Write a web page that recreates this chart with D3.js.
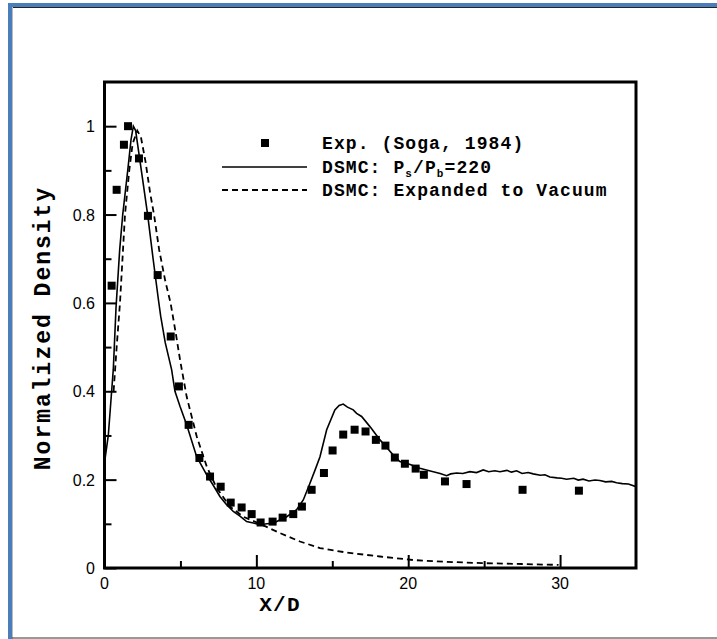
<!DOCTYPE html>
<html>
<head>
<meta charset="utf-8">
<script src="https://cdn.jsdelivr.net/npm/d3@7"></script>
<style>
  html, body { margin: 0; padding: 0; background: #fff; }
  svg { display: block; }
</style>
</head>
<body>
<script>
// Experimental points (Soga, 1984)
const expX = [0.47, 0.80, 1.28, 1.55, 2.27, 2.86, 3.50, 4.36, 4.90, 5.54, 6.25, 6.95, 7.65, 8.31, 9.03, 9.69, 10.28, 11.07, 11.73, 12.43, 13.00, 13.64, 14.45, 15.02, 15.72, 16.47, 17.19, 17.87, 18.50, 19.12, 19.78, 20.49, 21.03, 22.42, 23.84, 27.53, 31.24];
const expY = [0.639, 0.856, 0.958, 1.000, 0.927, 0.797, 0.663, 0.524, 0.411, 0.324, 0.249, 0.207, 0.184, 0.148, 0.137, 0.122, 0.103, 0.105, 0.114, 0.122, 0.139, 0.177, 0.215, 0.266, 0.302, 0.313, 0.309, 0.290, 0.277, 0.250, 0.236, 0.225, 0.211, 0.196, 0.190, 0.177, 0.175];

// DSMC, back pressure ratio Ps/Pb = 220
const dsmcX = [0, 0.25, 0.47, 0.58, 0.76, 1.0, 1.2, 1.53, 1.75, 1.9, 2.05, 2.3, 2.55, 2.84, 3.2, 3.54, 3.7, 4.0, 4.42, 4.64, 4.97, 5.41, 6.07, 6.73, 7.2, 7.6, 8.0, 8.48, 8.9, 9.36, 9.8, 10.24, 10.7, 11.1, 11.5, 12.0, 12.65, 13.09, 13.53, 13.9, 14.19, 14.63, 15.17, 15.45, 15.72, 16.0, 16.38, 16.6, 16.93, 17.48, 18.14, 18.6, 19.0, 19.45, 19.9, 20.3, 20.77, 21.2, 21.65, 22.1, 22.53, 22.8, 23.19, 23.6, 24.06, 24.5, 24.94, 25.3, 25.7, 26.04, 26.5, 26.8, 27.14, 27.5, 27.9, 28.23, 28.7, 29.0, 29.33, 29.8, 30.1, 30.43, 30.9, 31.2, 31.52, 31.9, 32.3, 32.62, 33.0, 33.4, 33.72, 34.1, 34.5, 35.0];
const dsmcY = [0.238, 0.300, 0.400, 0.450, 0.590, 0.720, 0.800, 0.900, 0.970, 1.000, 0.990, 0.930, 0.870, 0.800, 0.700, 0.610, 0.570, 0.510, 0.449, 0.400, 0.366, 0.324, 0.252, 0.211, 0.185, 0.162, 0.145, 0.128, 0.118, 0.105, 0.102, 0.098, 0.100, 0.101, 0.108, 0.116, 0.132, 0.154, 0.192, 0.225, 0.252, 0.313, 0.358, 0.368, 0.371, 0.364, 0.358, 0.350, 0.343, 0.320, 0.290, 0.272, 0.256, 0.241, 0.237, 0.232, 0.226, 0.222, 0.218, 0.214, 0.209, 0.213, 0.215, 0.214, 0.218, 0.216, 0.222, 0.218, 0.220, 0.218, 0.221, 0.217, 0.220, 0.214, 0.216, 0.213, 0.210, 0.211, 0.206, 0.204, 0.203, 0.201, 0.203, 0.199, 0.201, 0.197, 0.199, 0.198, 0.195, 0.196, 0.193, 0.191, 0.190, 0.184];

// DSMC, expansion into vacuum
const vacX = [0.6, 0.8, 1.02, 1.35, 1.63, 1.85, 2.16, 2.4, 2.7, 3.0, 3.26, 3.6, 4.0, 4.35, 4.7, 4.97, 5.41, 6.07, 6.73, 7.39, 8.26, 9.14, 10.24, 11.56, 12.87, 14.19, 15.94, 18.14, 20.33, 22.5, 24.9, 27.5, 29.9];
const vacY = [0.40, 0.50, 0.60, 0.80, 0.90, 0.96, 0.99, 0.975, 0.92, 0.85, 0.80, 0.72, 0.65, 0.60, 0.53, 0.472, 0.388, 0.298, 0.230, 0.181, 0.139, 0.116, 0.100, 0.079, 0.060, 0.045, 0.035, 0.026, 0.018, 0.014, 0.011, 0.009, 0.007];

const xMajor = [0, 10, 20, 30];
const xMinor = [5, 15, 25];
const yMajor = [0, 0.2, 0.4, 0.6, 0.8, 1];
const yMinor = [0.1, 0.3, 0.5, 0.7, 0.9];
const yLabels = ["0", "0.2", "0.4", "0.6", "0.8", "1"];

const W = 717, H = 639;
const box = { left: 104.5, right: 636, top: 82, bottom: 568 };

const svg = d3.select("body").append("svg").attr("width", W).attr("height", H);

// page frame
svg.append("rect").attr("x", 0).attr("y", 0).attr("width", W).attr("height", H).attr("fill", "#fff");
svg.append("rect").attr("x", 8).attr("y", 3).attr("width", W - 8).attr("height", 4).attr("fill", "#4a7ebb");
svg.append("rect").attr("x", 8).attr("y", 3).attr("width", 4).attr("height", H - 3).attr("fill", "#4a7ebb");
svg.append("line").attr("x1", 12).attr("x2", W).attr("y1", 7.5).attr("y2", 7.5).attr("stroke", "#222").attr("stroke-width", 1);
svg.append("line").attr("x1", 12.5).attr("x2", 12.5).attr("y1", 7).attr("y2", H).attr("stroke", "#bbb").attr("stroke-width", 1);
svg.append("line").attr("x1", 12).attr("x2", W).attr("y1", 638).attr("y2", 638).attr("stroke", "#333").attr("stroke-width", 1);

const x = d3.scaleLinear().domain([0, 35]).range([box.left, box.right]);
const y = d3.scaleLinear().domain([0, 1.1]).range([box.bottom, box.top]);

const g = svg.append("g");

// clip for curves
svg.append("clipPath").attr("id", "plotclip").append("rect")
  .attr("x", box.left).attr("y", box.top).attr("width", box.right - box.left).attr("height", box.bottom - box.top);

// axes with inward ticks
const xAxisMajor = d3.axisTop(x).tickValues(xMajor).tickSize(13).tickFormat("");
const xAxisMinor = d3.axisTop(x).tickValues(xMinor).tickSize(7).tickFormat("");
const yAxisMajor = d3.axisRight(y).tickValues(yMajor).tickSize(12).tickFormat("");
const yAxisMinor = d3.axisRight(y).tickValues(yMinor).tickSize(7).tickFormat("");

[xAxisMajor, xAxisMinor].forEach(a => {
  const ax = g.append("g").attr("transform", `translate(0,${box.bottom})`).call(a);
  ax.select(".domain").remove();
  ax.selectAll(".tick line").attr("stroke", "#000").attr("stroke-width", 2);
});
[yAxisMajor, yAxisMinor].forEach(a => {
  const ax = g.append("g").attr("transform", `translate(${box.left},0)`).call(a);
  ax.select(".domain").remove();
  ax.selectAll(".tick line").attr("stroke", "#000").attr("stroke-width", 2);
});

// tick labels
g.selectAll(".xlab").data(xMajor).enter().append("text")
  .attr("x", d => x(d)).attr("y", 589)
  .attr("text-anchor", "middle")
  .attr("font-family", "'Liberation Sans', Arial, sans-serif").attr("font-size", 16)
  .text(d => d);
g.selectAll(".ylab").data(yMajor).enter().append("text")
  .attr("x", 95).attr("y", d => y(d) + 6)
  .attr("text-anchor", "end")
  .attr("font-family", "'Liberation Sans', Arial, sans-serif").attr("font-size", 16)
  .text((d, i) => yLabels[i]);

// curves
const line = d3.line().x(d => x(d[0])).y(d => y(d[1]));
const plot = g.append("g").attr("clip-path", "url(#plotclip)");
plot.append("path").datum(dsmcX.map((v, i) => [v, dsmcY[i]]))
  .attr("d", line).attr("fill", "none").attr("stroke", "#000").attr("stroke-width", 1.6);
plot.append("path").datum(vacX.map((v, i) => [v, vacY[i]]))
  .attr("d", line).attr("fill", "none").attr("stroke", "#000").attr("stroke-width", 1.8)
  .attr("stroke-dasharray", "6,4");

// experimental markers
const ms = 8;
plot.selectAll(".exp").data(expX.map((v, i) => [v, expY[i]])).enter().append("rect")
  .attr("x", d => x(d[0]) - ms / 2).attr("y", d => y(d[1]) - ms / 2)
  .attr("width", ms).attr("height", ms).attr("fill", "#000");

// plot frame
g.append("rect").attr("x", box.left).attr("y", box.top)
  .attr("width", box.right - box.left).attr("height", box.bottom - box.top)
  .attr("fill", "none").attr("stroke", "#000").attr("stroke-width", 3);

// axis titles
const mono = "'Liberation Mono', 'Courier New', monospace";
g.append("text").attr("x", 280).attr("y", 611).attr("text-anchor", "middle")
  .attr("font-family", mono).attr("font-weight", "bold").attr("font-size", 21)
  .attr("letter-spacing", 1.2).text("X/D");
g.append("text").attr("transform", "translate(50,328) rotate(-90)").attr("text-anchor", "middle")
  .attr("font-family", mono).attr("font-weight", "bold").attr("font-size", 23)
  .attr("letter-spacing", 2).text("Normalized Density");

// legend
const lg = g.append("g").attr("font-family", mono).attr("font-weight", "bold").attr("font-size", 18);
lg.append("rect").attr("x", 265 - ms / 2).attr("y", 143 - ms / 2).attr("width", ms).attr("height", ms).attr("fill", "#000");
lg.append("line").attr("x1", 222).attr("x2", 307).attr("y1", 167).attr("y2", 167).attr("stroke", "#000").attr("stroke-width", 1.6);
lg.append("line").attr("x1", 222).attr("x2", 307).attr("y1", 190).attr("y2", 190).attr("stroke", "#000").attr("stroke-width", 1.8).attr("stroke-dasharray", "6,4");
lg.append("text").attr("x", 322).attr("y", 149).attr("letter-spacing", 1.1).text("Exp. (Soga, 1984)");
const t2 = lg.append("text").attr("x", 322).attr("y", 172.5).attr("letter-spacing", 1.1);
t2.append("tspan").text("DSMC: P");
t2.append("tspan").attr("font-size", 11).attr("dy", 4).text("s");
t2.append("tspan").attr("dy", -4).text("/P");
t2.append("tspan").attr("font-size", 11).attr("dy", 4).text("b");
t2.append("tspan").attr("dy", -4).text("=220");
lg.append("text").attr("x", 322).attr("y", 196).attr("letter-spacing", 1.1).text("DSMC: Expanded to Vacuum");
</script>
</body>
</html>
